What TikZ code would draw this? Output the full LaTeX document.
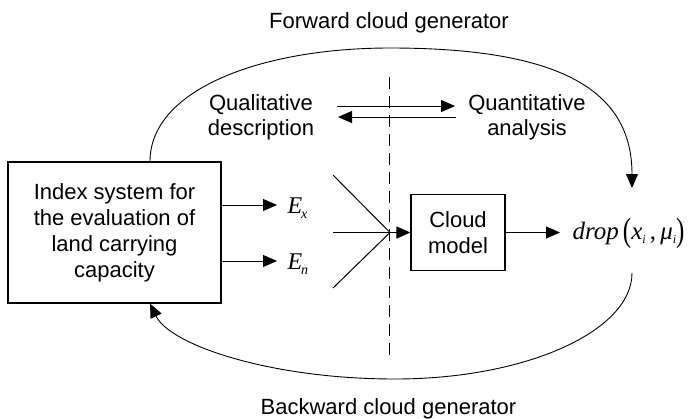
\documentclass[tikz,border=0pt]{standalone}
\usepackage{fontspec}
\setmainfont{Liberation Sans}
\newfontfamily\tms{Liberation Serif}
\usepackage{graphicx}
\usetikzlibrary{arrows.meta}
\newcommand{\mysub}[3]{\raisebox{#1}{\fontsize{#2}{#2}\selectfont #3}}
\newcommand{\mylpar}{\raisebox{-2.5pt}{\scalebox{1}[1.35]{(}}}
\newcommand{\myrpar}{\raisebox{-2.5pt}{\scalebox{1}[1.35]{)}}}
\begin{document}
\begin{tikzpicture}[x=1pt,y=-1pt,line width=1pt,
  arr/.style={-{Triangle[length=14pt,width=12pt]}},
  lbl/.style={font=\fontsize{22}{25}\selectfont,align=center,inner sep=0pt},
  boxnode/.style={draw,align=center,inner sep=0pt,line width=1.1pt,font=\fontsize{22}{26}\selectfont},
  arc/.style={line width=0.9pt},
  math/.style={inner sep=0pt,anchor=base west}]
\useasboundingbox (0,0) rectangle (688,418);

% titles
\node[lbl,anchor=base] (ftitle) at (389,28) {Forward cloud generator};
\node[lbl,anchor=base] (btitle) at (388.5,414) {Backward cloud generator};

% boxes
\node[boxnode,minimum width=213pt,minimum height=141pt] (idx) at (114.5,232.5)
  {Index system for\\the evaluation of\\land carrying\\capacity};
\node[boxnode,minimum width=94pt,minimum height=76pt] (cloud) at (458,232.5)
  {Cloud\\model};

% qualitative / quantitative
\node[lbl] (qual) at (261,117) {Qualitative\\description};
\node[lbl] (quant) at (527,117) {Quantitative\\analysis};

% E nodes and drop
\node[math,font=\tms\itshape\fontsize{24}{24}\selectfont] (ex) at (287,213) {E\kern-1pt\mysub{-5pt}{14}{x}};
\node[math,font=\tms\itshape\fontsize{24}{24}\selectfont] (en) at (287,269) {E\kern-1pt\mysub{-5pt}{14}{n}};
\node[math,font=\tms\fontsize{25}{25}\selectfont] (drop) at (572,239)
  {\textit{drop}\,\mylpar\textit{x}\mysub{-4pt}{12}{\itshape i}\,,\,\textit{μ}\mysub{-4pt}{12}{\itshape i}\myrpar};

% coordinates
\coordinate (exin) at (277,205);
\coordinate (enin) at (277,261);
\coordinate (l1) at (333,175);
\coordinate (l2) at (333,232.5);
\coordinate (l3) at (333,288);
\coordinate (conv) at (390,232.5);
\coordinate (dropin) at (560,232.5);
\coordinate (qa1) at (337,106);
\coordinate (qa2) at (455,106);
\coordinate (qb1) at (456,117);
\coordinate (qb2) at (338,117);
\coordinate (dtop) at (389,77);
\coordinate (dbot) at (389,358);
\coordinate (fs) at ([xshift=35.5pt]idx.north);
\coordinate (fe) at (632,188);
\coordinate (bs) at (632,273);
\coordinate (be) at ([xshift=35.5pt]idx.south);

% dashed divider
\draw[line width=0.9pt,dash pattern=on 12pt off 7pt] (dtop) -- (dbot);

% straight arrows
\draw[arr] (idx.east |- exin) -- (exin);
\draw[arr] (idx.east |- enin) -- (enin);
\draw (l1) -- (conv);
\draw (l2) -- (conv);
\draw (l3) -- (conv);
\draw[arr] (conv) -- (cloud.west);
\draw[arr] (cloud.east) -- (dropin);
\draw[arr] (qa1) -- (qa2);
\draw[arr] (qb1) -- (qb2);

% arcs
\draw[arc,arr] (fs) .. controls (150,90) and (260,48) .. (390,48)
  .. controls (560,48) and (632,90) .. (fe);
\draw[arc,arr] (bs) .. controls (632,331) and (526,379) .. (395,379)
  .. controls (270,379) and (170,345) .. (be);
\end{tikzpicture}
\end{document}
